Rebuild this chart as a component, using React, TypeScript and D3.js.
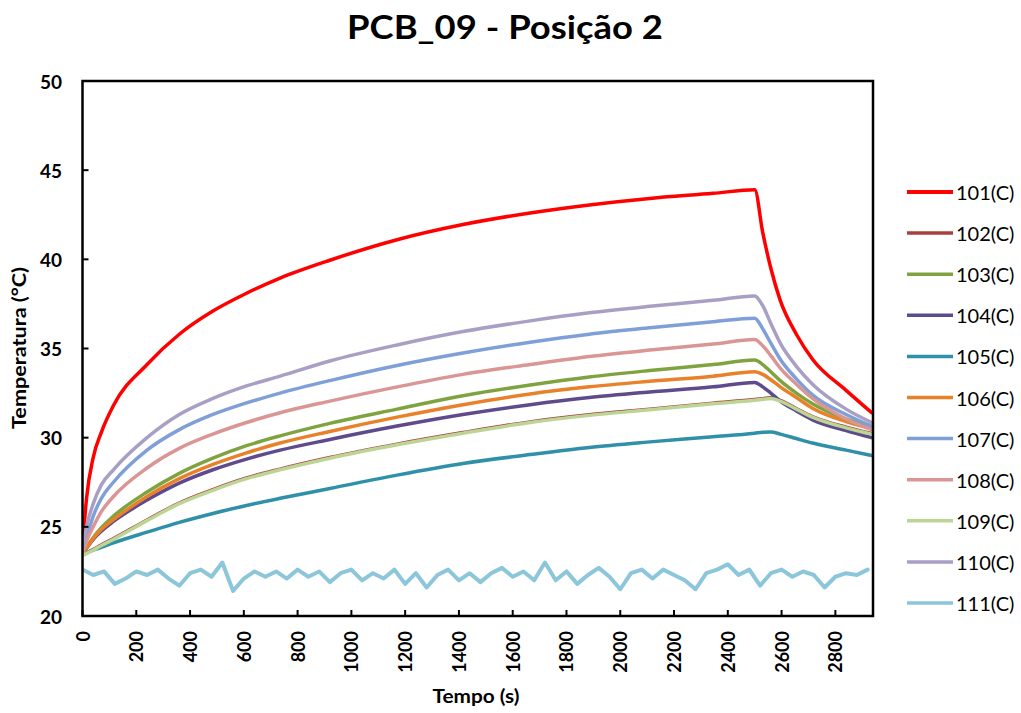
import * as d3 from "d3"
import React from "react"

// time samples (s) shared by the heating/cooling curves
const times = [0, 15, 40, 70, 115, 240, 360, 485, 610, 735, 920, 1170, 1415, 1665, 1885, 2100, 2345, 2500, 2530, 2560, 2595, 2655, 2715, 2840, 2935]

const s101 = [23.8, 26.6, 28.9, 30.3, 31.8, 34.1, 35.8, 37.1, 38.1, 38.95, 39.95, 41.1, 41.95, 42.6, 43.05, 43.4, 43.7, 43.9, 41.5, 39.5, 37.7, 35.8, 34.4, 32.65, 31.4]
const s102 = [23.45, 23.55, 23.75, 24.0, 24.35, 25.4, 26.35, 27.1, 27.75, 28.25, 28.9, 29.65, 30.3, 30.9, 31.3, 31.6, 31.95, 32.15, 32.2, 32.25, 32.1, 31.65, 31.2, 30.6, 30.25]
const s103 = [23.5, 23.85, 24.4, 24.95, 25.6, 26.95, 28.0, 28.85, 29.55, 30.1, 30.8, 31.6, 32.35, 32.95, 33.4, 33.75, 34.1, 34.35, 34.1, 33.7, 33.2, 32.5, 31.9, 31.05, 30.6]
const s104 = [23.5, 23.8, 24.3, 24.75, 25.3, 26.5, 27.45, 28.2, 28.8, 29.3, 29.9, 30.65, 31.3, 31.85, 32.25, 32.55, 32.85, 33.1, 32.85, 32.5, 32.05, 31.5, 31.0, 30.4, 30.0]
const s105 = [23.5, 23.55, 23.7, 23.85, 24.1, 24.7, 25.25, 25.75, 26.2, 26.6, 27.15, 27.9, 28.55, 29.05, 29.45, 29.75, 30.05, 30.25, 30.3, 30.32, 30.2, 29.95, 29.7, 29.3, 29.0]
const s106 = [23.5, 23.8, 24.35, 24.85, 25.4, 26.7, 27.7, 28.5, 29.15, 29.7, 30.35, 31.15, 31.85, 32.45, 32.85, 33.15, 33.45, 33.7, 33.55, 33.25, 32.85, 32.25, 31.65, 30.9, 30.5]
const s107 = [23.6, 24.4, 25.6, 26.6, 27.5, 29.3, 30.45, 31.3, 31.95, 32.5, 33.2, 34.05, 34.75, 35.35, 35.8, 36.15, 36.5, 36.7, 36.1, 35.3, 34.4, 33.3, 32.4, 31.3, 30.65]
const s108 = [23.5, 24.2, 25.0, 25.85, 26.7, 28.3, 29.4, 30.2, 30.85, 31.4, 32.05, 32.85, 33.55, 34.1, 34.55, 34.9, 35.25, 35.5, 35.15, 34.6, 33.9, 33.0, 32.2, 31.05, 30.45]
const s109 = [23.4, 23.5, 23.7, 23.95, 24.3, 25.35, 26.3, 27.05, 27.7, 28.2, 28.85, 29.6, 30.25, 30.85, 31.25, 31.55, 31.9, 32.1, 32.15, 32.2, 32.05, 31.6, 31.15, 30.55, 30.2]
const s110 = [23.6, 25.0, 26.3, 27.35, 28.2, 30.0, 31.3, 32.2, 32.9, 33.45, 34.3, 35.2, 35.95, 36.55, 37.0, 37.35, 37.7, 37.95, 37.4, 36.4, 35.3, 34.0, 33.0, 31.6, 30.85]

// ambient sensor, sampled every 40 s
const times111 = d3.range(0, 2921, 40)
const s111 = [22.6, 22.3, 22.5, 21.8, 22.1, 22.5, 22.3, 22.6, 22.1, 21.7, 22.4, 22.6, 22.2, 23.0, 21.4, 22.1, 22.5, 22.2, 22.5, 22.1,
    22.6, 22.2, 22.5, 21.9, 22.4, 22.6, 22.0, 22.4, 22.1, 22.6, 21.8, 22.4, 21.6, 22.3, 22.6, 22.0, 22.4, 21.9, 22.4, 22.7,
    22.2, 22.5, 22.0, 23.0, 22.0, 22.5, 21.8, 22.3, 22.7, 22.2, 21.5, 22.4, 22.6, 22.1, 22.6, 22.3, 22.0, 21.5, 22.4, 22.6,
    22.9, 22.3, 22.6, 21.7, 22.4, 22.6, 22.2, 22.5, 22.3, 21.6, 22.2, 22.4, 22.3, 22.6]

const seriesNames = ["101(C)", "102(C)", "103(C)", "104(C)", "105(C)", "106(C)", "107(C)", "108(C)", "109(C)", "110(C)", "111(C)"]
const colors = ["#ff0000", "#a9403d", "#7fa43f", "#5f4a8b", "#3090aa", "#e8812a", "#7f9fd8", "#d99694", "#bcd494", "#a99fc4", "#8cc6da"]
const widths = [3.5, 3, 3.5, 3.5, 3.5, 3.5, 3.5, 3.5, 3.5, 3.5, 4]

const yTicks = [20, 25, 30, 35, 40, 45, 50]
const xTicks = d3.range(0, 2801, 200)

const W = 1021
const H = 713
const margin = { left: 82.5, right: 873, top: 81, bottom: 616 }
const font = "Lato, 'Open Sans', sans-serif"

export default function App() {
    const x = d3.scaleLinear().domain([0, 2940]).range([margin.left, margin.right])
    const y = d3.scaleLinear().domain([20, 50]).range([margin.bottom, margin.top])

    const allValues = [s101, s102, s103, s104, s105, s106, s107, s108, s109, s110]
    const series = allValues.map((vals, i) => ({
        name: seriesNames[i],
        pts: vals.map((v, j) => [times[j], v] as [number, number]),
    }))
    const ambient = s111.map((v, j) => [times111[j], v] as [number, number])

    const smooth = d3.line<[number, number]>()
        .x((d) => x(d[0]))
        .y((d) => y(d[1]))
        .curve(d3.curveMonotoneX)
    const jagged = d3.line<[number, number]>()
        .x((d) => x(d[0]))
        .y((d) => y(d[1]))

    return (
        <svg width={W} height={H} style={{ position: "absolute", left: 0, top: 0, background: "#fff" }}>
            <text x={505} y={39} textAnchor="middle" fontFamily={font} fontWeight="bold" fontSize={33}
                textLength={316} lengthAdjust="spacingAndGlyphs">
                PCB_09 - Posição 2
            </text>

            <clipPath id="plot">
                <rect x={margin.left} y={margin.top} width={margin.right - margin.left} height={margin.bottom - margin.top} />
            </clipPath>

            <g clipPath="url(#plot)">
                {series.map((s, i) => (
                    <path key={s.name} d={smooth(s.pts) || ""} fill="none" stroke={colors[i]}
                        strokeWidth={widths[i]} strokeLinejoin="round" strokeLinecap="round" />
                ))}
                <path d={jagged(ambient) || ""} fill="none" stroke={colors[10]} strokeWidth={widths[10]}
                    strokeLinejoin="round" strokeLinecap="round" />
            </g>

            {/* frame */}
            <rect x={margin.left} y={margin.top} width={margin.right - margin.left} height={margin.bottom - margin.top}
                fill="none" stroke="#000" strokeWidth={2.5} />

            {/* y axis */}
            {yTicks.map((t) => (
                <g key={"y" + t}>
                    <line x1={margin.left} x2={margin.left + 6} y1={y(t)} y2={y(t)} stroke="#000" strokeWidth={2} />
                    <text x={62} y={y(t)} textAnchor="end" dominantBaseline="central"
                        fontFamily={font} fontWeight="bold" fontSize={19}>{t}</text>
                </g>
            ))}

            {/* x axis */}
            {xTicks.map((t) => (
                <g key={"x" + t}>
                    <line x1={x(t)} x2={x(t)} y1={margin.bottom} y2={margin.bottom - 6} stroke="#000" strokeWidth={2} />
                    <text transform={`translate(${x(t)},631) rotate(-90)`} textAnchor="end" dominantBaseline="central"
                        fontFamily={font} fontWeight="bold" fontSize={18}>{t}</text>
                </g>
            ))}

            <text transform="translate(19,348) rotate(-90)" textAnchor="middle" dominantBaseline="central"
                fontFamily={font} fontWeight="bold" fontSize={18} textLength={162} lengthAdjust="spacingAndGlyphs">
                Temperatura (°C)
            </text>
            <text x={476} y={703} textAnchor="middle" fontFamily={font} fontWeight="bold" fontSize={19}
                textLength={87} lengthAdjust="spacingAndGlyphs">Tempo (s)</text>

            {/* legend */}
            {seriesNames.map((n, i) => {
                const ly = 192 + i * 41.1
                return (
                    <g key={"l" + n}>
                        <line x1={907} x2={953} y1={ly} y2={ly} stroke={colors[i]} strokeWidth={i === 0 ? 4 : 3.5} />
                        <text x={956} y={ly} dominantBaseline="central" fontFamily={font} fontSize={20}>{n}</text>
                    </g>
                )
            })}
        </svg>
    )
}
